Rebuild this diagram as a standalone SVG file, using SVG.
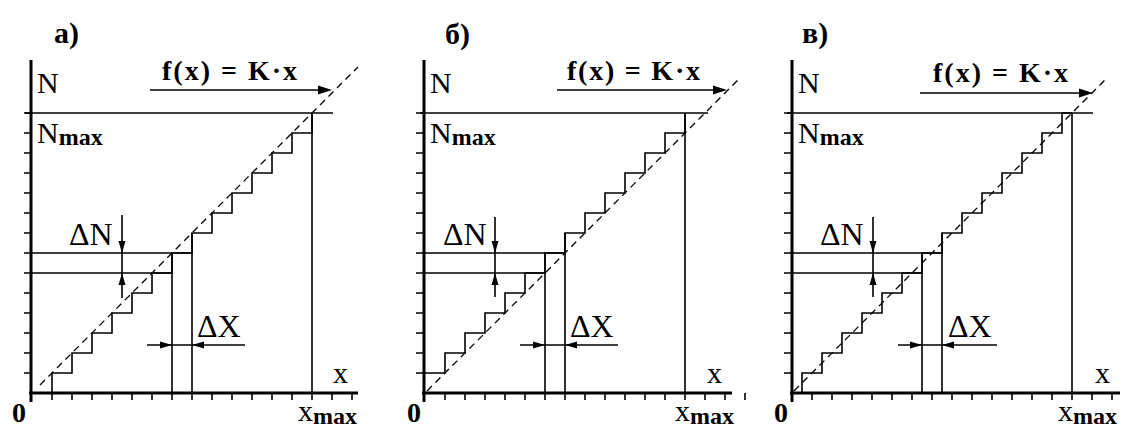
<svg xmlns="http://www.w3.org/2000/svg" width="1121" height="427" viewBox="0 0 1121 427">
<style>
.ax{stroke:#000;stroke-width:3;fill:none}
.ln{stroke:#000;stroke-width:1.6;fill:none}
.tk{stroke:#000;stroke-width:1.6;fill:none}
.ds{stroke:#000;stroke-width:1.3;stroke-dasharray:7 5;fill:none}
text{font-family:'Liberation Serif','Times New Roman',serif;fill:#000}
.r30{font-size:30px}
.b30{font-size:30px;font-weight:bold}
.fx{font-size:28px;font-weight:bold}
.d32{font-size:32px}
.sub{font-size:24px;font-weight:bold}
.z{font-size:28px;font-weight:bold}
</style>
<defs>
<path id="ah" d="M0,0 L-12,-3.5 L-12,3.5 Z" fill="#000"/>
<path id="ah2" d="M0,0 L-14,-4.5 L-14,4.5 Z" fill="#000"/>
<path id="yt" d="M-8,113H0M-8,133H0M-8,153H0M-8,173H0M-8,193H0M-8,213H0M-8,233H0M-8,253H0M-8,273H0M-8,293H0M-8,313H0M-8,333H0M-8,353H0M-8,373H0" class="tk"/>
<path id="xt" d="M20,393V400M40,393V400M60,393V400M80,393V400M100,393V400M120,393V400M140,393V400M160,393V400M180,393V400M200,393V400M220,393V400M240,393V400M260,393V400M280,393V400M300,393V400M320,393V400" class="tk"/>
</defs>

<g id="panel-a">
<text class="b30" x="54" y="43">а)</text>
<path class="ax" d="M31,60V402M29,393H358"/>
<use href="#yt" x="32"/>
<use href="#xt" x="32"/>
<text class="r30" x="37" y="93">N</text>
<text class="r30" x="37" y="143">N<tspan class="sub" dy="2">max</tspan></text>
<text class="z" x="12" y="422">0</text>
<text class="r30" x="333" y="383">x</text>
<text class="r30" x="298" y="421">x<tspan class="sub" dy="3">max</tspan></text>
<text class="fx" x="162" y="80" textLength="135" lengthAdjust="spacing">f(x) = K·x</text>
<text class="d32" x="69" y="245">ΔN</text>
<text class="d32" x="197" y="337">ΔX</text>
<path class="ds" d="M40,385L358,67"/>
<path class="ln" d="M52,393V373H72V353H92V333H112V313H132V293H152V273H172V253H192V233H212V213H232V193H252V173H272V153H292V133H312V113"/>
<path class="ln" d="M25,113H333M312,113V393M32,273H172M32,253H192M172,253V393M192,233V393"/>
</g>

<g id="panel-b">
<text class="b30" x="445" y="44">б)</text>
<path class="ax" d="M424,60V402M422,393H732"/>
<use href="#yt" x="424"/>
<use href="#xt" x="425"/>
<text class="r30" x="430" y="93">N</text>
<text class="r30" x="430" y="143">N<tspan class="sub" dy="2">max</tspan></text>
<text class="z" x="407" y="422">0</text>
<text class="r30" x="707" y="383">x</text>
<text class="r30" x="675" y="421">x<tspan class="sub" dy="3">max</tspan></text>
<text class="fx" x="567" y="80" textLength="133" lengthAdjust="spacing">f(x) = K·x</text>
<text class="d32" x="443" y="245">ΔN</text>
<text class="d32" x="570" y="337">ΔX</text>
<path class="ds" d="M427,391L740,78"/>
<path class="ln" d="M425,373H445V353H465V333H485V313H505V293H525V273H545V253H565V233H585V213H605V193H625V173H645V153H665V133H685V113"/>
<path class="ln" d="M420,113H708M685,113V393M425,273H545M425,253H565M545,253V393M565,233V393"/>
</g>

<g id="panel-c">
<text class="b30" x="802" y="43">в)</text>
<path class="ax" d="M792,60V402M790,393H1120"/>
<use href="#yt" x="792"/>
<use href="#xt" x="792"/>
<text class="r30" x="798" y="93">N</text>
<text class="r30" x="798" y="143">N<tspan class="sub" dy="2">max</tspan></text>
<text class="z" x="774" y="422">0</text>
<text class="r30" x="1095" y="383">x</text>
<text class="r30" x="1058" y="421">x<tspan class="sub" dy="3">max</tspan></text>
<text class="fx" x="933" y="82" textLength="135" lengthAdjust="spacing">f(x) = K·x</text>
<text class="d32" x="820" y="245">ΔN</text>
<text class="d32" x="948" y="337">ΔX</text>
<path class="ds" d="M794,391L1107,78"/>
<path class="ln" d="M802,393V373H822V353H842V333H862V313H882V293H902V273H922V253H942V233H962V213H982V193H1002V173H1022V153H1042V133H1062V113H1072"/>
<path class="ln" d="M787,113H1093M1072,113V393M792,273H922M792,253H942M922,253V393M942,233V393"/>
</g>

<g id="connectors">
<path class="ln" d="M150,90H320M557,90H715M920,93H1081"/>
<use href="#ah2" transform="translate(332,90)"/>
<use href="#ah2" transform="translate(727,90)"/>
<use href="#ah2" transform="translate(1093,93)"/>
<path class="ln" d="M122,215V298M495,217V297M873,217V297"/>
<use href="#ah" transform="translate(122,253) rotate(90)"/>
<use href="#ah" transform="translate(122,273) rotate(-90)"/>
<use href="#ah" transform="translate(495,253) rotate(90)"/>
<use href="#ah" transform="translate(495,273) rotate(-90)"/>
<use href="#ah" transform="translate(873,253) rotate(90)"/>
<use href="#ah" transform="translate(873,273) rotate(-90)"/>
<path class="ln" d="M147,345H245M520,345H618M898,345H997"/>
<use href="#ah" transform="translate(172,345)"/>
<use href="#ah" transform="translate(192,345) rotate(180)"/>
<use href="#ah" transform="translate(545,345)"/>
<use href="#ah" transform="translate(565,345) rotate(180)"/>
<use href="#ah" transform="translate(922,345)"/>
<use href="#ah" transform="translate(942,345) rotate(180)"/>
</g>
</svg>
